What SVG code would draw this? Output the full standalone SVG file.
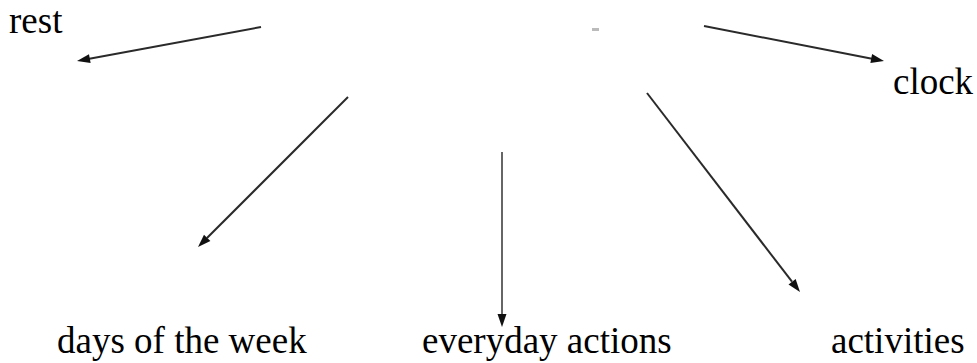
<svg xmlns="http://www.w3.org/2000/svg" width="977" height="363" viewBox="0 0 977 363">
<rect width="977" height="363" fill="#fff"/>
<g id="hub"><rect x="592" y="28" width="7" height="3" fill="#bbb"/></g>
<g id="rest"><text x="9" y="33" font-size="37" font-family="Liberation Serif">rest</text></g>
<g id="clock"><text x="893" y="94" font-size="37" font-family="Liberation Serif">clock</text></g>
<g id="days"><text x="57" y="353" font-size="37" font-family="Liberation Serif">days of the week</text></g>
<g id="everyday"><text x="422" y="353" font-size="37" font-family="Liberation Serif">everyday actions</text></g>
<g id="activities"><text x="831" y="353" font-size="37" font-family="Liberation Serif">activities</text></g>
<g id="connectors" stroke="#2a2a2a" stroke-width="2" fill="#111">
<line x1="261" y1="27" x2="88" y2="59"/>
<polygon stroke="none" points="77,61 88.96,54.21 90.6,63.07"/>
<line x1="704" y1="26" x2="872" y2="58.7"/>
<polygon stroke="none" points="884,61 870.38,62.94 872.1,54.1"/>
<line x1="348" y1="97" x2="207" y2="238"/>
<polygon stroke="none" points="198,247 204.01,234.63 210.37,240.99"/>
<line x1="502" y1="152" x2="502" y2="314" stroke="#666"/>
<polygon stroke="none" points="502,327 497.5,314 506.5,314"/>
<line x1="647" y1="93" x2="792" y2="281.7"/>
<polygon stroke="none" points="800,292 788.51,284.43 795.65,278.95"/>
</g>
</svg>
